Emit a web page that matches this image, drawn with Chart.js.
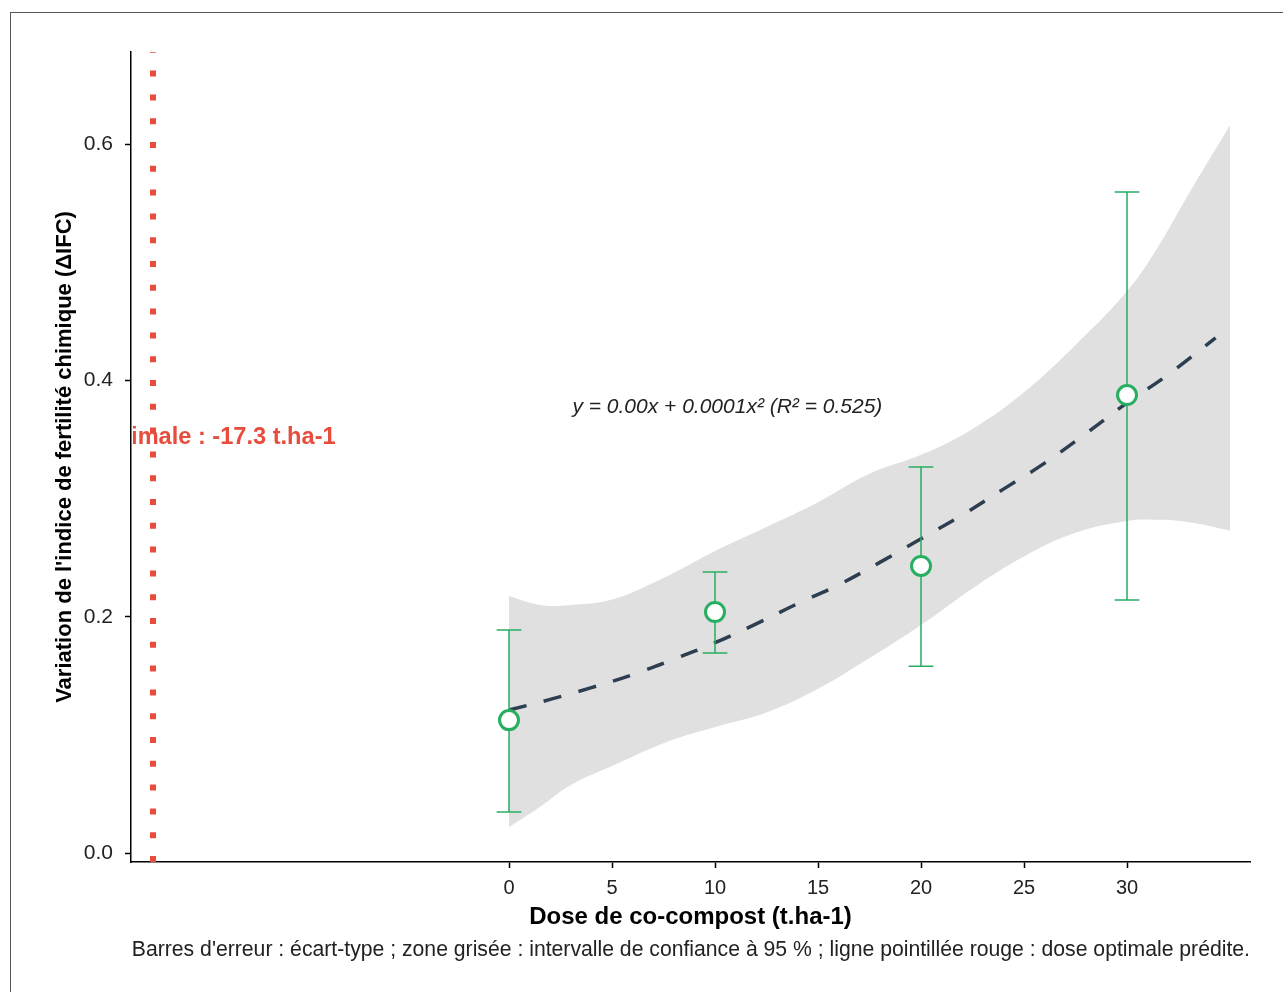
<!DOCTYPE html>
<html>
<head>
<meta charset="utf-8">
<script src="https://cdn.jsdelivr.net/npm/chart.js@4.4.1/dist/chart.umd.min.js"></script>
<style>
  html, body { margin: 0; padding: 0; background: #fff; }
  #wrap { position: relative; width: 1283px; height: 992px; overflow: hidden; }
</style>
</head>
<body>
<div id="wrap"><canvas id="chart" width="1283" height="992"></canvas></div>
<script>
// observed means and error bar ends (mean ± sd)
const doses   = [0, 10, 20, 30];
const means   = [0.1125, 0.204, 0.243, 0.3876];
const errLow  = [0.0347, 0.1693, 0.158, 0.2141];
const errHigh = [0.1887, 0.2378, 0.3267, 0.5594];

// fitted curve
const fitX = [0, 2, 4, 6, 8, 10, 12, 14, 16, 18, 20, 22, 24, 26, 28, 30, 32, 34.3];
const fitY = [0.121, 0.130, 0.140, 0.151, 0.164, 0.178, 0.194, 0.211, 0.227, 0.246,
              0.266, 0.286, 0.308, 0.330, 0.355, 0.381, 0.405, 0.436];

// 95% confidence band
const bandX     = [0, 1.5, 3, 5, 7.5, 10, 12.5, 15, 17.5, 20, 22.5, 25, 27.5, 30, 31.5, 33, 35];
const bandUpper = [0.2175, 0.210, 0.210, 0.2145, 0.2327, 0.2556, 0.276, 0.297, 0.321, 0.337,
                   0.359, 0.390, 0.430, 0.4756, 0.513, 0.558, 0.616];
const bandLower = [0.022, 0.039, 0.0575, 0.0736, 0.093, 0.1066, 0.119, 0.139, 0.165, 0.193,
                   0.224, 0.251, 0.271, 0.281, 0.282, 0.280, 0.273];

const xTicks = [0, 5, 10, 15, 20, 25, 30];
const yTicks = [0, 0.2, 0.4, 0.6];

const optimalDose = -17.3;
const optimalLabel = 'Dose optimale : -17.3 t.ha-1';
const equationLabel = 'y = 0.00x + 0.0001x\u00B2 (R\u00B2 = 0.525)';
const captionText = "Barres d'erreur : écart-type ; zone grisée : intervalle de confiance à 95 % ; ligne pointillée rouge : dose optimale prédite.";

const FONT = '"Liberation Sans", Arial, sans-serif';
const GREEN = '#27ae60';
const RED = '#e74c3c';

const toPts = (xs, ys) => xs.map((x, i) => ({ x, y: ys[i] }));

const extras = {
  id: 'extras',
  beforeDraw(chart) {
    const ctx = chart.ctx;
    ctx.save();
    ctx.strokeStyle = '#555';
    ctx.lineWidth = 1;
    ctx.strokeRect(10.5, 12.5, 1400, 1100);
    ctx.restore();
  },
  beforeDatasetsDraw(chart) {
    const { ctx, chartArea: a, scales: { x } } = chart;
    const px = Math.round(x.getPixelForValue(optimalDose));
    ctx.save();
    ctx.beginPath(); ctx.rect(a.left, a.top, a.right - a.left, a.bottom - a.top); ctx.clip();
    ctx.strokeStyle = RED;
    ctx.lineWidth = 6;
    ctx.setLineDash([6, 17.8]);
    ctx.beginPath();
    ctx.moveTo(px, a.bottom);
    ctx.lineTo(px, a.top - 30);
    ctx.stroke();
    ctx.restore();
  },
  beforeDatasetDraw(chart, args) {
    if (args.index !== 0) return;
    const { ctx, scales: { x, y } } = chart;
    ctx.save();
    ctx.strokeStyle = GREEN;
    ctx.lineWidth = 1.5;
    doses.forEach((d, i) => {
      const px = x.getPixelForValue(d);
      const lo = y.getPixelForValue(errLow[i]);
      const hi = y.getPixelForValue(errHigh[i]);
      const cap = (x.getPixelForValue(0.6) - x.getPixelForValue(0));
      ctx.beginPath();
      ctx.moveTo(px, lo); ctx.lineTo(px, hi);
      ctx.moveTo(px - cap, lo); ctx.lineTo(px + cap, lo);
      ctx.moveTo(px - cap, hi); ctx.lineTo(px + cap, hi);
      ctx.stroke();
    });
    ctx.restore();
  },
  afterDatasetsDraw(chart) {
    const { ctx, chartArea: a, scales: { x, y } } = chart;
    // optimum label (clipped by the panel, as in the original)
    ctx.save();
    ctx.beginPath(); ctx.rect(a.left + 2, a.top, a.right - a.left, a.bottom - a.top); ctx.clip();
    ctx.fillStyle = RED;
    ctx.font = 'bold 23.6px ' + FONT;
    ctx.textAlign = 'right';
    ctx.textBaseline = 'middle';
    ctx.fillText(optimalLabel, x.getPixelForValue(optimalDose) + 183, y.getPixelForValue(0.352));
    ctx.restore();
    // equation
    ctx.save();
    ctx.fillStyle = '#222';
    ctx.font = 'italic 21px ' + FONT;
    ctx.textAlign = 'center';
    ctx.textBaseline = 'middle';
    ctx.fillText(equationLabel, x.getPixelForValue(10.6), y.getPixelForValue(0.377));
    ctx.restore();
  },
  afterDraw(chart) {
    const { ctx, chartArea: a } = chart;
    ctx.save();
    ctx.fillStyle = '#222';
    ctx.font = '21.2px ' + FONT;
    ctx.textAlign = 'right';
    ctx.textBaseline = 'middle';
    ctx.fillText(captionText, a.right, 950);
    ctx.restore();
  }
};

new Chart(document.getElementById('chart'), {
  type: 'line',
  data: {
    datasets: [
      {
        label: 'Moyennes',
        data: toPts(doses, means),
        showLine: false,
        pointRadius: 9.5,
        pointBorderWidth: 3,
        pointBorderColor: GREEN,
        pointBackgroundColor: '#fff'
      },
      {
        label: 'Ajustement',
        data: toPts(fitX, fitY),
        borderColor: '#2c3e50',
        borderWidth: 3.5,
        borderDash: [18, 18],
        borderCapStyle: 'butt',
        tension: 0.4,
        pointRadius: 0,
        fill: false
      },
      {
        label: 'IC haut',
        data: toPts(bandX, bandUpper),
        borderWidth: 0,
        borderColor: 'rgba(0,0,0,0)',
        backgroundColor: '#e0e0e0',
        tension: 0.4,
        pointRadius: 0,
        fill: '+1'
      },
      {
        label: 'IC bas',
        data: toPts(bandX, bandLower),
        borderWidth: 0,
        borderColor: 'rgba(0,0,0,0)',
        tension: 0.4,
        pointRadius: 0,
        fill: false
      }
    ]
  },
  options: {
    responsive: false,
    animation: false,
    events: [],
    layout: { padding: { left: 0, top: 52, right: 33, bottom: 0 } },
    plugins: { legend: { display: false }, tooltip: { enabled: false } },
    scales: {
      x: {
        type: 'linear',
        min: -18.35, max: 35.97,
        afterBuildTicks: s => { s.ticks = xTicks.map(v => ({ value: v })); },
        afterFit: s => { s.height = 130; },
        ticks: { font: { family: FONT, size: 20 }, color: '#222', padding: 8, maxRotation: 0, autoSkip: false },
        grid: { drawOnChartArea: false, drawTicks: true, tickLength: 6, color: '#000', tickWidth: 1.5 },
        border: { display: true, color: '#000', width: 1.5 },
        title: {
          display: true, text: 'Dose de co-compost (t.ha-1)', color: '#000',
          font: { family: FONT, size: 24, weight: 'bold' }, padding: { top: 0, bottom: 60 }
        }
      },
      y: {
        type: 'linear',
        min: -0.0076, max: 0.678,
        afterBuildTicks: s => { s.ticks = yTicks.map(v => ({ value: v })); },
        afterFit: s => { s.width = 131; },
        ticks: { font: { family: FONT, size: 21 }, color: '#222', padding: 12, callback: v => v.toFixed(1) },
        grid: { drawOnChartArea: false, drawTicks: true, tickLength: 6, color: '#000', tickWidth: 1.5 },
        border: { display: true, color: '#000', width: 1.5 },
        title: {
          display: true, text: "Variation de l'indice de fertilité chimique (ΔIFC)", color: '#000',
          font: { family: FONT, size: 22, weight: 'bold' }, padding: { top: 52, bottom: 0 }
        }
      }
    }
  },
  plugins: [extras]
});
</script>
</body>
</html>
